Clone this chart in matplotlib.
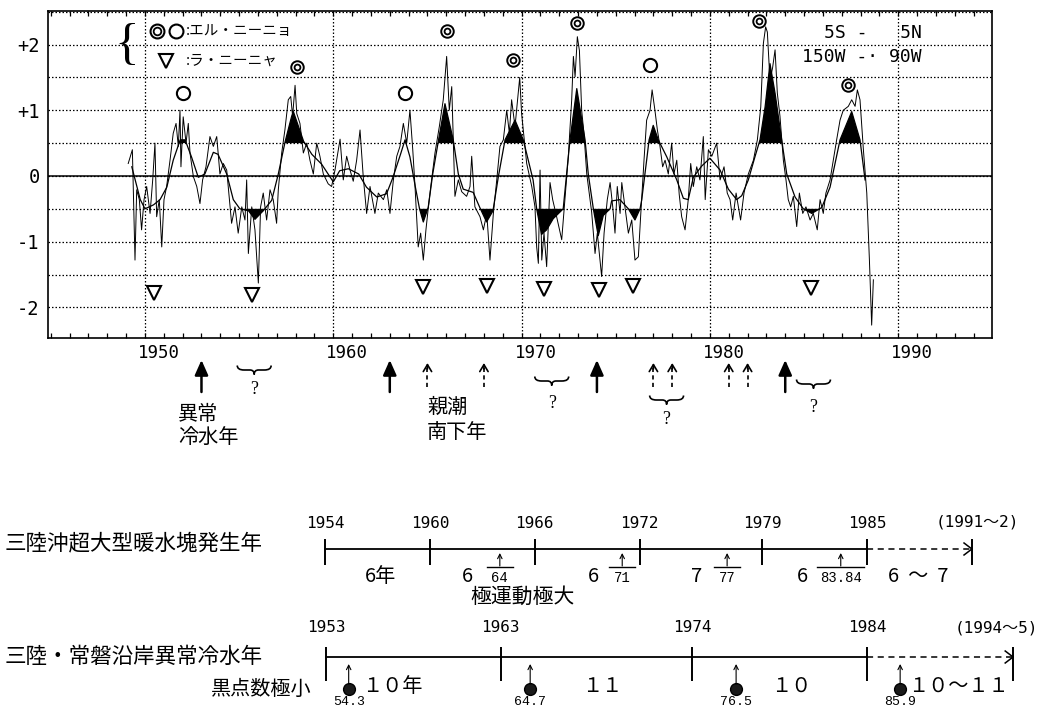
import matplotlib
matplotlib.use('Agg')
import matplotlib.pyplot as plt
import matplotlib.transforms as mtrans
from matplotlib.path import Path
from matplotlib.patches import PathPatch
from matplotlib.ticker import MultipleLocator
import numpy as np

plt.rcParams['font.family'] = ['Noto Sans CJK JP', 'DejaVu Sans']

# ---------------- data ----------------
# smoothed SST anomaly (5S-5N, 150W-90W)
smooth_year = [1949.30, 1949.75, 1950.00, 1950.45, 1950.80, 1951.16, 1951.50, 1951.87, 1952.13, 1952.47,
               1952.83, 1953.18, 1953.63, 1953.88, 1954.34, 1954.69, 1955.04, 1955.50, 1955.84, 1956.28,
               1956.73, 1957.08, 1957.44, 1957.79, 1957.88, 1958.42, 1958.86, 1959.38, 1959.84, 1960.00,
               1960.34, 1960.80, 1961.35, 1961.76, 1962.31, 1962.83, 1963.17, 1963.57, 1963.81, 1964.07,
               1964.36, 1964.58, 1964.78, 1965.04, 1965.28, 1965.59, 1965.93, 1966.37, 1966.64, 1966.90,
               1967.43, 1967.78, 1968.14, 1968.48, 1968.76, 1969.12, 1969.65, 1970.09, 1970.61, 1970.80,
               1971.06, 1971.33, 1971.68, 1972.21, 1972.39, 1972.57, 1972.93, 1973.37, 1973.54, 1973.81,
               1974.07, 1974.34, 1974.70, 1974.78, 1975.22, 1975.67, 1976.02, 1976.29, 1976.38, 1976.64,
               1976.77, 1976.99, 1977.26, 1977.71, 1978.24, 1978.59, 1978.85, 1979.12, 1979.56, 1980.00,
               1980.54, 1980.98, 1981.42, 1981.69, 1982.04, 1982.39, 1982.66, 1982.93, 1983.19, 1983.46,
               1983.81, 1984.08, 1984.52, 1984.96, 1985.41, 1985.94, 1986.38, 1986.91, 1987.53, 1987.97,
               1988.24]
smooth_val = [0.14, -0.36, -0.50, -0.44, -0.36, -0.17, 0.24, 0.55, 0.55, 0.29,
              -0.02, 0.03, 0.36, 0.33, 0.03, -0.36, -0.50, -0.53, -0.66, -0.53,
              -0.37, 0.03, 0.52, 0.91, 0.98, 0.53, 0.33, 0.18, -0.02, -0.09,
              0.08, 0.11, 0.03, -0.17, -0.32, -0.27, -0.02, 0.33, 0.55, 0.29,
              -0.17, -0.50, -0.70, -0.48, 0.03, 0.55, 1.10, 0.55, 0.03, -0.20,
              -0.25, -0.48, -0.70, -0.53, -0.02, 0.55, 0.85, 0.55, -0.06, -0.50,
              -0.89, -0.82, -0.65, -0.50, 0.03, 0.55, 1.33, 0.55, 0.03, -0.50,
              -0.91, -0.60, -0.50, -0.38, -0.36, -0.50, -0.67, -0.50, -0.36, 0.24,
              0.55, 0.77, 0.55, 0.29, -0.06, -0.34, -0.36, -0.02, 0.15, 0.27,
              0.09, -0.20, -0.36, -0.30, -0.06, 0.29, 0.55, 1.05, 1.71, 1.26,
              0.55, 0.03, -0.32, -0.50, -0.57, -0.48, -0.17, 0.55, 0.98, 0.55,
              -0.06]

# monthly (raw) SST anomaly
raw_year = [1949.11, 1949.33, 1949.47, 1949.56, 1949.70, 1949.82, 1949.95, 1950.09, 1950.27, 1950.41,
            1950.53, 1950.62, 1950.76, 1950.89, 1951.01, 1951.15, 1951.33, 1951.50, 1951.65, 1951.77,
            1951.86, 1951.91, 1952.03, 1952.18, 1952.30, 1952.39, 1952.57, 1952.75, 1952.92, 1953.06,
            1953.24, 1953.45, 1953.63, 1953.81, 1953.98, 1954.16, 1954.34, 1954.60, 1954.78, 1954.95,
            1955.14, 1955.31, 1955.40, 1955.49, 1955.67, 1955.84, 1956.02, 1956.14, 1956.28, 1956.46,
            1956.64, 1956.81, 1956.99, 1957.08, 1957.26, 1957.43, 1957.61, 1957.74, 1957.84, 1957.97,
            1958.06, 1958.23, 1958.41, 1958.59, 1958.76, 1958.94, 1959.12, 1959.29, 1959.47, 1959.73,
            1959.91, 1960.09, 1960.36, 1960.53, 1960.71, 1960.89, 1961.06, 1961.24, 1961.42, 1961.59,
            1961.77, 1961.95, 1962.21, 1962.39, 1962.66, 1962.84, 1963.01, 1963.19, 1963.37, 1963.54,
            1963.72, 1963.90, 1964.07, 1964.22, 1964.34, 1964.51, 1964.64, 1964.78, 1964.92, 1965.05,
            1965.22, 1965.40, 1965.63, 1965.84, 1966.02, 1966.16, 1966.29, 1966.46, 1966.64, 1966.82,
            1967.08, 1967.26, 1967.35, 1967.52, 1967.79, 1967.97, 1968.15, 1968.32, 1968.50, 1968.68,
            1968.85, 1969.03, 1969.21, 1969.35, 1969.47, 1969.65, 1969.90, 1970.00, 1970.27, 1970.54,
            1970.71, 1970.80, 1970.89, 1970.98, 1971.07, 1971.19, 1971.33, 1971.51, 1971.65, 1971.86,
            1972.13, 1972.30, 1972.48, 1972.66, 1972.75, 1972.84, 1972.96, 1973.07, 1973.19, 1973.31,
            1973.46, 1973.60, 1973.72, 1973.90, 1974.02, 1974.16, 1974.25, 1974.38, 1974.55, 1974.70,
            1974.84, 1974.96, 1975.08, 1975.23, 1975.32, 1975.49, 1975.67, 1975.85, 1976.02, 1976.20,
            1976.32, 1976.50, 1976.64, 1976.82, 1976.93, 1977.08, 1977.21, 1977.35, 1977.49, 1977.62,
            1977.79, 1977.97, 1978.09, 1978.24, 1978.37, 1978.50, 1978.68, 1978.85, 1978.98, 1979.12,
            1979.30, 1979.47, 1979.65, 1979.75, 1979.92, 1980.10, 1980.36, 1980.54, 1980.75, 1980.92,
            1981.07, 1981.21, 1981.39, 1981.51, 1981.63, 1981.81, 1982.04, 1982.31, 1982.52, 1982.70,
            1982.84, 1982.96, 1983.05, 1983.19, 1983.33, 1983.46, 1983.58, 1983.72, 1983.90, 1984.04,
            1984.16, 1984.29, 1984.43, 1984.61, 1984.75, 1984.93, 1985.10, 1985.32, 1985.49, 1985.70,
            1985.85, 1986.02, 1986.16, 1986.38, 1986.55, 1986.73, 1986.91, 1987.08, 1987.35, 1987.53,
            1987.71, 1987.83, 1987.97, 1988.15, 1988.33, 1988.47, 1988.59, 1988.68]
raw_val = [0.19, 0.40, -1.28, -0.21, -0.36, -0.82, -0.36, -0.16, -0.57, -0.06,
           0.50, -0.62, -0.36, -1.08, -0.36, -0.16, 0.24, 0.65, 0.80, 0.45,
           1.00, 0.14, 0.90, 0.50, 0.80, 0.35, -0.01, -0.16, -0.42, -0.06,
           0.14, 0.60, 0.45, 0.60, 0.03, 0.19, 0.09, -0.72, -0.47, -0.87,
           -0.47, -0.67, -0.06, -1.18, -0.47, -0.82, -1.63, -0.47, -0.26, -0.67,
           -0.21, -0.36, -0.72, -0.21, 0.35, 0.70, 1.16, 1.21, 0.91, 1.38,
           0.95, 0.80, 0.35, 0.50, 0.24, 0.03, 0.50, 0.30, 0.03, -0.12,
           -0.16, 0.09, 0.56, -0.06, 0.30, 0.09, -0.08, 0.24, 0.70, -0.01,
           -0.57, -0.16, -0.57, -0.26, -0.36, -0.21, -0.57, -0.06, 0.30, 0.45,
           0.80, 0.50, 1.00, 0.40, -0.16, -1.08, -0.87, -1.28, -0.82, -0.47,
           -0.06, 0.35, 0.75, 1.16, 1.82, 1.00, 1.36, -0.31, -0.06, -0.24,
           -0.31, -0.16, 0.30, -0.47, -0.62, -0.82, -0.57, -1.28, -0.57, -0.06,
           0.45, 0.55, 1.00, 0.65, 1.16, 0.75, 1.50, 0.95, 0.19, -0.16,
           -0.47, -1.08, -1.33, 0.09, -1.28, -0.87, -1.38, -0.10, -0.36, -0.62,
           -0.97, -0.36, 0.29, 1.16, 1.82, 1.51, 2.12, 1.91, 1.00, 0.65,
           0.03, -0.28, -0.55, -1.18, -0.87, -1.28, -1.53, -0.87, -0.36, -0.10,
           -0.47, -0.87, -0.16, -0.57, -0.10, -0.47, -0.87, -0.67, -1.28, -1.23,
           -0.62, 0.24, 0.85, 1.00, 1.31, 1.00, 0.70, 0.45, 0.14, 0.24,
           0.03, 0.50, 0.03, 0.24, -0.28, -0.62, -0.82, -0.36, 0.19, -0.16,
           0.14, -0.06, 0.60, -0.36, 0.40, 0.30, 0.50, -0.06, 0.14, -0.26,
           -0.36, -0.67, -0.26, -0.47, -0.67, -0.26, 0.03, 0.24, 0.55, 1.05,
           2.02, 2.27, 2.19, 1.45, 1.65, 1.92, 1.26, 0.91, 0.24, -0.06,
           -0.36, -0.47, -0.31, -0.77, -0.26, -0.57, -0.47, -0.67, -0.57, -0.82,
           -0.36, -0.57, -0.26, -0.06, 0.24, 0.55, 0.85, 1.00, 1.06, 1.16,
           1.06, 1.31, 1.16, 0.40, -0.26, -1.28, -2.27, -1.58]

elnino_strong_year = [1958.06, 1966.02, 1969.56, 1972.93, 1982.62, 1987.32]
elnino_strong_val = [1.66, 2.20, 1.77, 2.33, 2.36, 1.39]
elnino_weak_year = [1952.03, 1963.81, 1976.82]
elnino_weak_val = [1.26, 1.26, 1.69]
lanina_year = [1950.48, 1955.67, 1964.75, 1968.15, 1971.19, 1974.11, 1975.93, 1985.35]
lanina_val = [-1.78, -1.81, -1.69, -1.67, -1.72, -1.74, -1.68, -1.71]

x_major = [1950, 1960, 1970, 1980, 1990]
y_major = [-2, -1, 0, 1, 2]
y_labels = ['-2', '-1', '0', '+1', '+2']

cold_arrow_years = [1953, 1963, 1974, 1984]          # 異常冷水年 (solid arrows)
oyashio_years = [1965, 1968, 1977, 1978, 1981, 1982]  # 親潮南下年 (dashed arrows)
uncertain_years = [1955.8, 1971.6, 1977.7, 1985.5]   # braces with "?"

warm_years = [1954, 1960, 1966, 1972, 1979, 1985]
warm_next_year = 1991
warm_next = '(1991～2)'
warm_intervals = ['6年', '6', '6', '7', '6', '6  ～  7']
polar_max_years = [1964, 1971, 1977, 1983.5]
polar_max_labels = ['64', '71', '77', '83.84']

cold_years = [1953, 1963, 1974, 1984]
cold_next = '(1994～5)'
cold_intervals = ['１０年', '１１', '１０', '１０～１１']
sunspot_min = [1954.3, 1964.7, 1976.5, 1985.9]
sunspot_labels = ['54.3', '64.7', '76.5', '85.9']

# ---------------- layout ----------------
W, H = 1048, 709
fig = plt.figure(figsize=(W / 100, H / 100), dpi=100)

ax = fig.add_axes([48 / W, (H - 338) / H, 944 / W, 327 / H])
ov = fig.add_axes([0, 0, 1, 1])
ov.set_xlim(0, W); ov.set_ylim(H, 0); ov.axis('off'); ov.patch.set_visible(False)
aw = fig.add_axes([0, 0, 1, 1])
aw.set_xlim(1935.412, 1995.353); aw.set_ylim(H, 0); aw.axis('off'); aw.patch.set_visible(False)
ac = fig.add_axes([0, 0, 1, 1])
ac.set_xlim(1934.320, 1994.372); ac.set_ylim(H, 0); ac.axis('off'); ac.patch.set_visible(False)

MONO = 'DejaVu Sans Mono'
K = 'black'

# ---------------- main chart ----------------
ax.set_xlim(1944.85, 1994.98)
ax.set_ylim(-2.466, 2.511)
ax.set_xticks(x_major)
ax.set_xticklabels([''] * len(x_major))
ax.xaxis.set_minor_locator(MultipleLocator(1))
ax.set_yticks(y_major)
ax.set_yticklabels(y_labels, fontfamily=MONO, fontsize=13.5)
ax.yaxis.set_minor_locator(MultipleLocator(0.5))
ax.tick_params(axis='x', which='both', direction='in', length=3.5, width=0.9, top=True, bottom=True)
ax.tick_params(axis='y', which='both', length=0, pad=6)
ax.grid(axis='y', which='both', color=K, lw=0.9, ls=(0, (1.2, 1.6)))
ax.grid(axis='x', which='major', color=K, lw=0.9, ls=(0, (1.2, 1.6)))
ax.set_axisbelow(True)
for s in ax.spines.values():
    s.set_linewidth(1.2)
ax.axhline(0, color=K, lw=1.1, zorder=1.5)

sy = np.array(smooth_year); sv = np.array(smooth_val)
ax.fill_between(sy, 0.5, sv, where=sv > 0.5, interpolate=True, color=K, lw=0, zorder=2)
ax.fill_between(sy, -0.5, sv, where=sv < -0.5, interpolate=True, color=K, lw=0, zorder=2)
ax.plot(raw_year, raw_val, color=K, lw=0.7, zorder=3)
ax.plot(smooth_year, smooth_val, color=K, lw=0.9, zorder=3)

ax.plot(elnino_weak_year, elnino_weak_val, 'o', ms=9.5, mfc='none', mec=K, mew=1.5, ls='none', zorder=4)
ax.plot(elnino_strong_year, elnino_strong_val, 'o', ms=9, mfc='none', mec=K, mew=1.4, ls='none', zorder=4)
ax.plot(elnino_strong_year, elnino_strong_val, 'o', ms=4.2, mfc='none', mec=K, mew=1.3, ls='none', zorder=4)
ax.plot(lanina_year, lanina_val, 'v', ms=10, mfc='none', mec=K, mew=1.5, ls='none', zorder=4)

# legend inside chart
ov.text(127, 46, '{', fontsize=37, family='Liberation Serif', ha='center', va='center')
ov.plot([157], [31], 'o', ms=10, mfc='none', mec=K, mew=1.5)
ov.plot([157], [31], 'o', ms=5.5, mfc='none', mec=K, mew=1.3)
ov.plot([176], [31], 'o', ms=10, mfc='none', mec=K, mew=1.5)
ov.text(186, 31, ':エル・ニーニョ', fontsize=10.5, ha='left', va='center')
ov.plot([166], [61], 'v', ms=10, mfc='none', mec=K, mew=1.5)
ov.text(186, 61, ':ラ・ニーニャ', fontsize=10.5, ha='left', va='center')

ov.text(922, 33, '5S -   5N', family=MONO, fontsize=13, ha='right', va='center')
ov.text(922, 57, '150W -· 90W', family=MONO, fontsize=13, ha='right', va='center')

# x tick labels (offset like the original)
blend = mtrans.blended_transform_factory(ax.transData, ov.transData)
for yr in x_major:
    ov.text(yr - 0.37, 353, str(yr), transform=blend, ha='left', va='center',
            family=MONO, fontsize=12.5)

# ---------------- arrows under the chart ----------------
for x in cold_arrow_years:
    ov.annotate('', xy=(x, 360), xytext=(x, 392), xycoords=blend, textcoords=blend,
                annotation_clip=False,
                arrowprops=dict(arrowstyle='-|>,head_length=0.9,head_width=0.4', lw=1.8,
                                color=K, mutation_scale=10, shrinkA=0, shrinkB=0))
for x in oyashio_years:
    ov.plot([x, x], [387, 368], transform=blend, color=K, lw=1.2, ls=(0, (2.5, 2)))
    ov.annotate('', xy=(x, 363), xytext=(x, 369), xycoords=blend, textcoords=blend,
                annotation_clip=False,
                arrowprops=dict(arrowstyle='->,head_length=0.5,head_width=0.3', lw=1.2,
                                color=K, mutation_scale=10, shrinkA=0, shrinkB=0))

brace_y = [370, 381, 400, 384]
q_y = [390, 403, 419, 407]


def brace(axis, tr, xc, y, hw, h=4.5):
    verts = [(xc - hw, y - h), (xc - hw, y), (xc - hw * 0.6, y), (xc - hw * 0.25, y),
             (xc, y), (xc, y + h), (xc, y), (xc + hw * 0.25, y), (xc + hw * 0.6, y),
             (xc + hw, y), (xc + hw, y - h)]
    codes = [Path.MOVETO, Path.CURVE3, Path.CURVE3, Path.LINETO, Path.CURVE3, Path.CURVE3,
             Path.CURVE3, Path.CURVE3, Path.LINETO, Path.CURVE3, Path.CURVE3]
    axis.add_patch(PathPatch(Path(verts, codes), fill=False, lw=1.2, ec=K, transform=tr))


for x, by, qy in zip(uncertain_years, brace_y, q_y):
    brace(ov, blend, x, by, 0.9)
    ov.text(x, qy, '?', transform=blend, ha='center', va='center', fontsize=13,
            family='Liberation Serif')

ov.text(1951.75, 414, '異常', transform=blend, ha='left', va='center', fontsize=14.5)
ov.text(1951.75, 437, '冷水年', transform=blend, ha='left', va='center', fontsize=14.5)
ov.text(1964.98, 407, '親潮', transform=blend, ha='left', va='center', fontsize=14.5)
ov.text(1964.98, 432, '南下年', transform=blend, ha='left', va='center', fontsize=14.5)

# ---------------- row 1: warm water mass ----------------
ov.text(5, 543, '三陸沖超大型暖水塊発生年', ha='left', va='center', fontsize=15.5)
aw.plot([warm_years[0], warm_years[-1]], [549, 549], color=K, lw=1.3)
aw.vlines(warm_years, 539, 565, color=K, lw=1.4)
for yr in warm_years:
    aw.text(yr, 523, str(yr), ha='center', va='center', family=MONO, fontsize=11.5)
aw.plot([warm_years[-1], warm_next_year], [549, 549], color=K, lw=1.1, ls=(0, (4, 3)))
aw.vlines([warm_next_year], 539, 565, color=K, lw=1.4)
aw.plot([warm_next_year - 0.45, warm_next_year, warm_next_year - 0.45], [543, 549, 555], color=K, lw=1.1)
ov.text(977, 522, warm_next, ha='center', va='center', family=[MONO, 'Noto Sans CJK JP'], fontsize=11.5)

warm_interval_x = [1957.15, 1962.12, 1969.33, 1975.28, 1981.28, 1987.92]
for x, lab in zip(warm_interval_x, warm_intervals):
    aw.text(x, 577, lab, ha='center', va='center', fontsize=14.5)

for yr, lab in zip(polar_max_years, polar_max_labels):
    aw.annotate('', xy=(yr, 553), xytext=(yr, 566),
                arrowprops=dict(arrowstyle='->,head_length=0.4,head_width=0.2', lw=0.8,
                                color=K, mutation_scale=8, shrinkA=0, shrinkB=0))
    hw = 0.2 * len(lab) + 0.35
    aw.plot([yr - hw, yr + hw], [567, 567], color=K, lw=1.0)
    aw.text(yr, 578, lab, ha='center', va='center', family='Liberation Mono', fontsize=10)
ov.text(470, 597, '極運動極大', ha='left', va='center', fontsize=15)

# ---------------- row 2: abnormal cold water ----------------
ov.text(5, 657, '三陸・常磐沿岸異常冷水年', ha='left', va='center', fontsize=15.5)
ac.plot([cold_years[0], cold_years[-1]], [657, 657], color=K, lw=1.3)
ac.vlines(cold_years, 647, 681, color=K, lw=1.4)
for yr in cold_years:
    ac.text(yr, 628, str(yr), ha='center', va='center', family=MONO, fontsize=11.5)
cold_end = 1992.37
ac.plot([cold_years[-1], cold_end], [657, 657], color=K, lw=1.1, ls=(0, (4, 3)))
ac.vlines([cold_end], 647, 681, color=K, lw=1.4)
ac.plot([cold_end - 0.45, cold_end, cold_end - 0.45], [651, 657, 663], color=K, lw=1.1)
ov.text(996, 628, cold_next, ha='center', va='center', family=[MONO, 'Noto Sans CJK JP'], fontsize=11.5)

cold_interval_x = [1956.78, 1968.82, 1979.65, 1989.21]
for x, lab in zip(cold_interval_x, cold_intervals):
    ac.text(x, 686, lab, ha='center', va='center', fontsize=14.5)

ov.text(312, 689, '黒点数極小', ha='right', va='center', fontsize=14.5)
for v, lab in zip(sunspot_min, sunspot_labels):
    ac.annotate('', xy=(v, 664), xytext=(v, 684),
                arrowprops=dict(arrowstyle='->,head_length=0.4,head_width=0.2', lw=0.8,
                                color=K, mutation_scale=8, shrinkA=0, shrinkB=0))
    ac.plot([v], [689], 'o', ms=8.5, color='#1a1a1a', mec=K)
    ac.text(v, 708, lab, ha='center', va='bottom', family='Liberation Mono', fontsize=9.5)

fig.savefig('out.png', dpi=100)
